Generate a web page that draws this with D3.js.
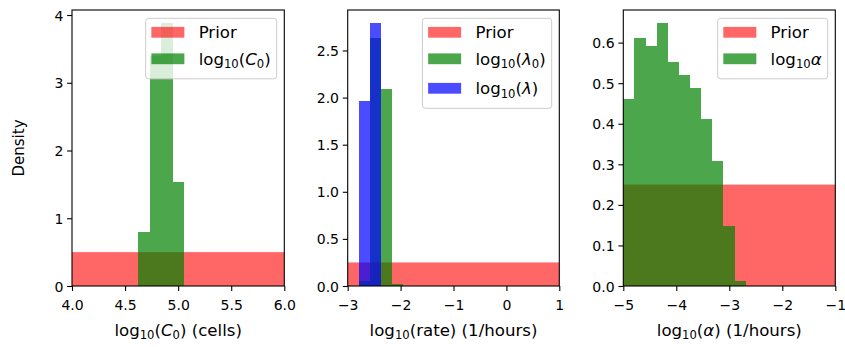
<!DOCTYPE html>
<html>
<head>
<meta charset="utf-8">
<script src="https://cdn.jsdelivr.net/npm/d3@7"></script>
<style>
body { margin: 0; background: #fff; }
text { font-family: "DejaVu Sans", sans-serif; fill: #000; }
</style>
</head>
<body>
<div class="figure"></div>
<script>
// values (histogram bin edges + densities)
var c0Edges = [4.626, 4.733, 4.840, 4.947, 5.054];
var c0Density = [0.79, 3.40, 3.88, 1.53];
var c0Prior = [4, 6, 0.5]; // low, high, density
var c0XTicks = [4, 4.5, 5, 5.5, 6];
var c0YTicks = [0, 1, 2, 3, 4];

var lam0Edges = [-2.780, -2.574, -2.368, -2.162, -1.956];
var lam0Density = [0.05, 2.63, 2.09, 0.02];
var lamEdges = [-2.780, -2.578, -2.376];
var lamDensity = [1.96, 2.79];
var ratePrior = [-3, 1, 0.25];
var rateXTicks = [-3, -2, -1, 0, 1];
var rateYTicks = [0, 0.5, 1, 1.5, 2, 2.5];

var alphaEdges = [-5, -4.79, -4.58, -4.37, -4.16, -3.95, -3.74, -3.53, -3.32, -3.11, -2.90, -2.69];
var alphaDensity = [0.46, 0.612, 0.592, 0.648, 0.553, 0.521, 0.489, 0.411, 0.307, 0.148, 0.012];
var alphaPrior = [-5, -1, 0.25];
var alphaXTicks = [-5, -4, -3, -2, -1];
var alphaYTicks = [0, 0.1, 0.2, 0.3, 0.4, 0.5, 0.6];

// rich text pieces: [text, style] style: n normal, i italic, s subscript
var lblPrior = [["Prior", "n"]];
var lblC0 = [["log", "n"], ["10", "s"], ["(", "n"], ["C", "i"], ["0", "s"], [")", "n"]];
var lblLam0 = [["log", "n"], ["10", "s"], ["(", "n"], ["\u03bb", "i"], ["0", "s"], [")", "n"]];
var lblLam = [["log", "n"], ["10", "s"], ["(", "n"], ["\u03bb", "i"], [")", "n"]];
var lblAlpha = [["log", "n"], ["10", "s"], ["\u03b1", "i"]];
var xlabC0 = [["log", "n"], ["10", "s"], ["(", "n"], ["C", "i"], ["0", "s"], [") (cells)", "n"]];
var xlabRate = [["log", "n"], ["10", "s"], ["(rate) (1/hours)", "n"]];
var xlabAlpha = [["log", "n"], ["10", "s"], ["(", "n"], ["\u03b1", "i"], [") (1/hours)", "n"]];

var w = 845;
var h = 347;
var top_ = 10, bottom = 286;
var tickFont = 14, labelFont = 16.6, legendFont = 16.6;

var svg = d3.select(".figure")
            .append("svg")
            .attr("width", w)
            .attr("height", h);

function richText(sel, parts, fs)
{
    var sub = false;
    parts.forEach(function(p){
        var t = sel.append("tspan").text(p[0]);
        if (p[1] == "s") {
            t.attr("font-size", fs * 0.7).attr("dy", sub ? 0 : fs * 0.2);
            sub = true;
        } else {
            t.attr("dy", sub ? -fs * 0.2 : 0);
            if (p[1] == "i") t.attr("font-style", "italic");
            sub = false;
        }
    });
}

function drawPanel(cfg)
{
    var g = svg.append("g");
    var x = d3.scaleLinear().domain(cfg.xDomain).range([cfg.left, cfg.right]);
    var ymax = d3.max(cfg.series, function(s){ return d3.max(s.density); }) * 1.05;
    var y = d3.scaleLinear().domain([0, ymax]).range([bottom, top_]);

    var clipId = "clip" + cfg.id;
    svg.append("clipPath").attr("id", clipId)
        .append("rect")
        .attr("x", cfg.left).attr("y", top_)
        .attr("width", cfg.right - cfg.left).attr("height", bottom - top_);

    var plot = g.append("g").attr("clip-path", "url(#" + clipId + ")");

    // prior (uniform)
    plot.append("rect")
        .attr("x", x(cfg.prior[0]))
        .attr("y", y(cfg.prior[2]))
        .attr("width", x(cfg.prior[1]) - x(cfg.prior[0]))
        .attr("height", y(0) - y(cfg.prior[2]))
        .attr("fill", "red")
        .attr("fill-opacity", 0.6);

    cfg.series.forEach(function(s){
        var bins = s.density.map(function(d, i){ return {x0: s.edges[i], x1: s.edges[i+1], v: d}; });
        plot.selectAll("rect." + s.cls)
            .data(bins)
            .enter()
            .append("rect")
            .attr("class", s.cls)
            .attr("x", function(d){ return Math.round(x(d.x0)); })
            .attr("y", function(d){ return y(d.v); })
            .attr("width", function(d){ return Math.round(x(d.x1)) - Math.round(x(d.x0)); })
            .attr("height", function(d){ return y(0) - y(d.v); })
            .attr("fill", s.color)
            .attr("fill-opacity", 0.7)
            .attr("shape-rendering", "crispEdges");
    });

    // axes
    var xAxis = g.append("g")
        .attr("transform", "translate(0," + bottom + ")")
        .call(d3.axisBottom(x).tickValues(cfg.xTicks).tickFormat(d3.format(cfg.xFmt)).tickSize(4.9).tickPadding(4));
    var yAxis = g.append("g")
        .attr("transform", "translate(" + cfg.left + ",0)")
        .call(d3.axisLeft(y).tickValues(cfg.yTicks).tickFormat(d3.format(cfg.yFmt)).tickSize(4.9).tickPadding(3.8));
    [xAxis, yAxis].forEach(function(a){
        a.select(".domain").remove();
        a.attr("font-family", null).attr("font-size", null);
        a.selectAll("line").attr("stroke", "#000").attr("stroke-width", 1.1);
        a.selectAll("text").attr("font-size", tickFont);
    });
    xAxis.selectAll("text").attr("y", 24).attr("dy", 0);
    yAxis.selectAll("text").attr("dy", "0.36em");

    g.append("rect")
        .attr("x", cfg.left).attr("y", top_)
        .attr("width", cfg.right - cfg.left).attr("height", bottom - top_)
        .attr("fill", "none").attr("stroke", "#000").attr("stroke-width", 1.1);

    var xl = g.append("text")
        .attr("x", (cfg.left + cfg.right) / 2)
        .attr("y", 336)
        .attr("text-anchor", "middle")
        .attr("font-size", labelFont);
    richText(xl, cfg.xlabel, labelFont);

    // legend
    var rowsY = [14, 40.5, 70];
    var lg = g.append("g");
    var box = lg.append("rect")
        .attr("y", top_ + 8.3)
        .attr("rx", 3).attr("ry", 3)
        .attr("fill", "#fff").attr("fill-opacity", 0.8)
        .attr("stroke", "#cccccc").attr("stroke-width", 1);
    var entries = [{lbl: lblPrior, color: "red", op: 0.6}].concat(cfg.series.map(function(s){
        return {lbl: s.label, color: s.color, op: 0.7};
    }));
    var maxW = 0;
    var texts = [];
    entries.forEach(function(e, i){
        var t = lg.append("text")
            .attr("y", top_ + 8.3 + rowsY[i] + 6)
            .attr("font-size", legendFont);
        richText(t, e.lbl, legendFont);
        maxW = Math.max(maxW, t.node().getBBox().width);
        texts.push(t);
    });
    var boxW = 5.7 + 33 + 14.3 + maxW + 6;
    var boxLeft = cfg.right - 7.6 - boxW;
    box.attr("x", boxLeft).attr("width", boxW).attr("height", rowsY[entries.length - 1] + 20);
    entries.forEach(function(e, i){
        lg.append("rect")
            .attr("x", boxLeft + 5.7)
            .attr("y", top_ + 8.3 + rowsY[i] - 5.4)
            .attr("width", 33).attr("height", 10.8)
            .attr("fill", e.color).attr("fill-opacity", e.op);
        texts[i].attr("x", boxLeft + 5.7 + 33 + 14.3);
    });
}

drawPanel({id: 1, left: 72, right: 284.3, xDomain: [4, 6], prior: c0Prior,
    series: [{edges: c0Edges, density: c0Density, color: "green", cls: "c0", label: lblC0}],
    xTicks: c0XTicks, yTicks: c0YTicks, xFmt: ".1f", yFmt: "d", xlabel: xlabC0});

drawPanel({id: 2, left: 347.7, right: 559.3, xDomain: [-3, 1], prior: ratePrior,
    series: [{edges: lam0Edges, density: lam0Density, color: "green", cls: "lam0", label: lblLam0},
             {edges: lamEdges, density: lamDensity, color: "blue", cls: "lam", label: lblLam}],
    xTicks: rateXTicks, yTicks: rateYTicks, xFmt: "d", yFmt: ".1f", xlabel: xlabRate});

drawPanel({id: 3, left: 623.3, right: 835.3, xDomain: [-5, -1], prior: alphaPrior,
    series: [{edges: alphaEdges, density: alphaDensity, color: "green", cls: "alpha", label: lblAlpha}],
    xTicks: alphaXTicks, yTicks: alphaYTicks, xFmt: "d", yFmt: ".1f", xlabel: xlabAlpha});

svg.append("text")
    .attr("transform", "translate(24,148) rotate(-90)")
    .attr("text-anchor", "middle")
    .attr("font-size", 15)
    .text("Density");
</script>
</body>
</html>
